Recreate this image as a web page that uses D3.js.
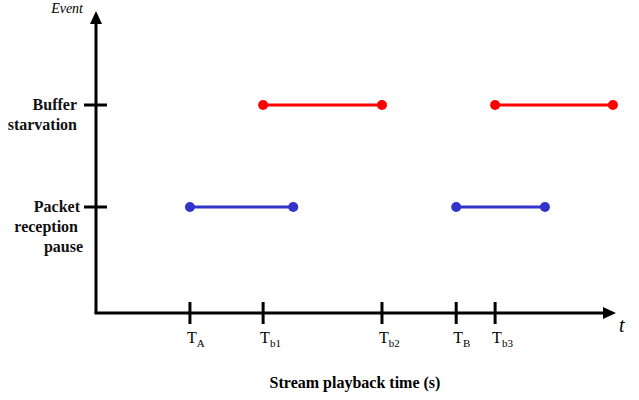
<!DOCTYPE html>
<html>
<head>
<meta charset="utf-8">
<script src="https://cdn.jsdelivr.net/npm/d3@7"></script>
<style>
  body { margin: 0; background: #fff; }
</style>
</head>
<body>
<div id="wrapper"></div>
<script>
// event categories (top to bottom)
const events = ["Buffer starvation", "Packet reception pause"]
const eventLines = [["Buffer", "starvation"], ["Packet", "reception", "pause"]]

// time marks on the x axis (arbitrary units, 0 = origin, 100 = axis end)
const tickNames = [["T", "A"], ["T", "b1"], ["T", "b2"], ["T", "B"], ["T", "b3"]]
const tickTimes = [18.1, 32.2, 55.1, 69.4, 76.9]

// intervals for each event
const starvationStart = [32.2, 76.9]
const starvationEnd = [55.1, 99.6]
const pauseStart = [18.1, 69.4]
const pauseEnd = [38.0, 86.5]

const serif = "'Liberation Serif', 'Times New Roman', Times, 'DejaVu Serif', serif"

function drawChart() {
  const width = 639, height = 400
  const origin = {x: 96, y: 313}
  const axisEnd = 616, axisTop = 11

  const svg = d3.select("#wrapper").append("svg")
      .attr("width", width)
      .attr("height", height)
      .attr("font-family", serif)

  const x = d3.scaleLinear().domain([0, 100]).range([origin.x, 615])
  const y = d3.scalePoint().domain(events).range([105, 207])

  // axes
  svg.append("line")
      .attr("x1", origin.x).attr("y1", origin.y)
      .attr("x2", origin.x).attr("y2", axisTop + 8)
      .attr("stroke", "black").attr("stroke-width", 3)
  svg.append("path")
      .attr("d", `M${origin.x},${axisTop} L${origin.x - 6},${axisTop + 13} L${origin.x + 6},${axisTop + 13} Z`)
      .attr("fill", "black")
  svg.append("line")
      .attr("x1", origin.x - 1.5).attr("y1", origin.y)
      .attr("x2", axisEnd - 8).attr("y2", origin.y)
      .attr("stroke", "black").attr("stroke-width", 3)
  svg.append("path")
      .attr("d", `M${axisEnd},${origin.y} L${axisEnd - 13},${origin.y - 6} L${axisEnd - 13},${origin.y + 6} Z`)
      .attr("fill", "black")

  // y ticks + labels
  const yt = svg.append("g").selectAll("g")
    .data(events)
    .join("g")
      .attr("transform", d => `translate(0,${y(d)})`)
  yt.append("line")
      .attr("x1", origin.x - 12).attr("x2", origin.x + 11)
      .attr("stroke", "black").attr("stroke-width", 3)
  yt.append("text")
      .attr("text-anchor", "end")
      .attr("font-size", 16)
      .attr("font-weight", "bold")
      .attr("fill", "#111")
    .selectAll("tspan")
    .data((d, i) => eventLines[i])
    .join("tspan")
      .attr("x", (d, i, n) => n.length === 3 ? [80, 78, 83][i] : [77, 77][i])
      .attr("y", (d, i) => 5 + i * 20)
      .text(d => d)

  // x ticks + labels
  const xt = svg.append("g").selectAll("g")
    .data(tickTimes)
    .join("g")
      .attr("transform", d => `translate(${x(d)},${origin.y})`)
  xt.append("line")
      .attr("y1", -11).attr("y2", 11)
      .attr("stroke", "black").attr("stroke-width", 3)
  const lbl = xt.append("text")
      .attr("x", -3).attr("y", 30)
      .attr("font-size", 16)
  lbl.append("tspan").text((d, i) => tickNames[i][0])
  lbl.append("tspan")
      .attr("font-size", 11)
      .attr("dy", 4)
      .text((d, i) => tickNames[i][1])

  // interval segments
  const series = [
    {event: events[0], color: "#ff0000", starts: starvationStart, ends: starvationEnd},
    {event: events[1], color: "#3333cc", starts: pauseStart, ends: pauseEnd},
  ]
  series.forEach(s => {
    const g = svg.append("g")
    const segs = s.starts.map((st, i) => ({s: st, e: s.ends[i]}))
    g.selectAll("line")
      .data(segs)
      .join("line")
        .attr("x1", d => x(d.s)).attr("x2", d => x(d.e))
        .attr("y1", y(s.event)).attr("y2", y(s.event))
        .attr("stroke", s.color).attr("stroke-width", 3)
    g.selectAll("circle")
      .data(segs.flatMap(d => [d.s, d.e]))
      .join("circle")
        .attr("cx", d => x(d)).attr("cy", y(s.event))
        .attr("r", 5)
        .attr("fill", s.color)
  })

  // axis titles
  svg.append("text")
      .attr("x", 83).attr("y", 13)
      .attr("text-anchor", "end")
      .attr("font-size", 14)
      .attr("font-style", "italic")
      .text("Event")
  svg.append("text")
      .attr("x", 619).attr("y", 332)
      .attr("font-size", 20)
      .attr("font-style", "italic")
      .text("t")
  svg.append("text")
      .attr("x", 355).attr("y", 388)
      .attr("text-anchor", "middle")
      .attr("font-size", 16)
      .attr("font-weight", "bold")
      .text("Stream playback time (s)")
}

drawChart()
</script>
</body>
</html>
